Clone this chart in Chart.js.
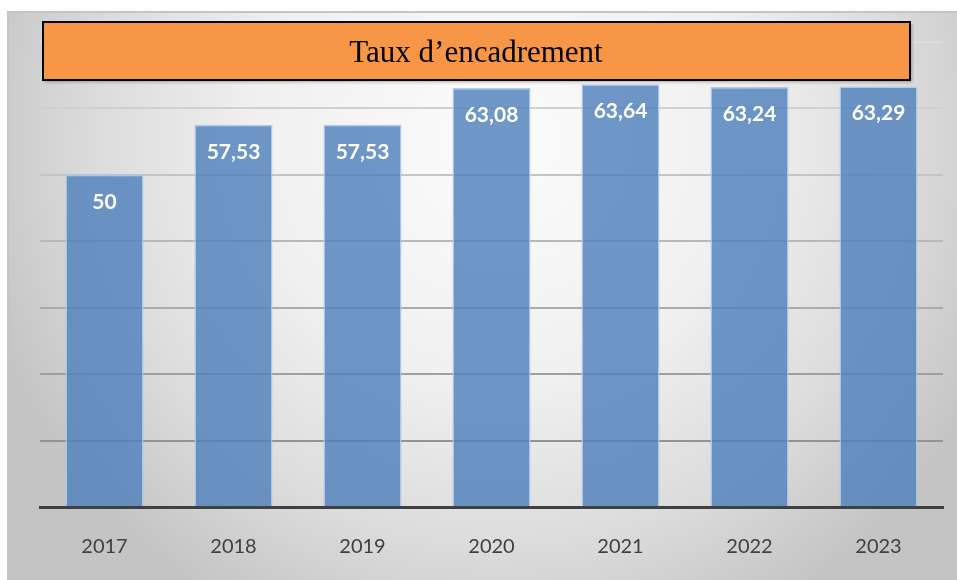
<!DOCTYPE html>
<html>
<head>
<meta charset="utf-8">
<script src="https://cdn.jsdelivr.net/npm/chart.js@4/dist/chart.umd.min.js"></script>
<style>
  body { margin: 0; background: #fff; }
  #chart { display: block; }
</style>
</head>
<body>
<canvas id="chart" width="957" height="580"></canvas>
<script>
// data
const years = ['2017', '2018', '2019', '2020', '2021', '2022', '2023'];
const tauxEncadrement = [50, 57.53, 57.53, 63.08, 63.64, 63.24, 63.29];
const chartTitle = 'Taux d\u2019encadrement';

// gridline shade gets darker towards the bottom, like the original
const gridShade = (v) => {
    if (v <= 0) return 'rgba(0,0,0,0)';
    const t = Math.min(1, v / 70);
    const g = Math.round(135 + t * 85);
    return `rgb(${g},${g},${g})`;
};

const fmt = (v) => String(v).replace('.', ',');

// background frame with the grey radial gradient
const frameBg = {
    id: 'frameBg',
    beforeDraw(chart) {
        const { ctx, width, height } = chart;
        ctx.save();
        ctx.fillStyle = '#ffffff';
        ctx.fillRect(0, 0, width, height);
        const grd = ctx.createRadialGradient(500, 140, 0, 500, 140, 540);
        grd.addColorStop(0, '#fcfcfc');
        grd.addColorStop(0.45, '#f0f0f0');
        grd.addColorStop(0.75, '#dcdcdc');
        grd.addColorStop(1, '#c4c4c4');
        ctx.fillStyle = grd;
        ctx.fillRect(8, 12, width - 8, height - 12);
        ctx.strokeStyle = '#c4c4c4';
        ctx.lineWidth = 2;
        ctx.strokeRect(8, 12, width, height);
        ctx.restore();
    }
};

// orange boxed title sitting over the top gridline
const boxTitle = {
    id: 'boxTitle',
    afterDraw(chart) {
        const { ctx } = chart;
        ctx.save();
        ctx.shadowColor = 'rgba(0,0,0,0.3)';
        ctx.shadowOffsetX = 2;
        ctx.shadowOffsetY = 2;
        ctx.shadowBlur = 3;
        ctx.fillStyle = '#f79646';
        ctx.fillRect(43, 22, 867, 58);
        ctx.shadowColor = 'transparent';
        ctx.strokeStyle = '#000';
        ctx.lineWidth = 2;
        ctx.strokeRect(43, 22, 867, 58);
        ctx.fillStyle = '#000';
        ctx.font = '31px "Liberation Serif", "Times New Roman", serif';
        ctx.textAlign = 'center';
        ctx.textBaseline = 'alphabetic';
        ctx.fillText(chartTitle, 476, 62);
        ctx.restore();
    }
};

// white values inside the top of each bar
const barValues = {
    id: 'barValues',
    afterDatasetsDraw(chart) {
        const { ctx } = chart;
        const meta = chart.getDatasetMeta(0);
        ctx.save();
        ctx.fillStyle = '#ffffff';
        ctx.font = 'bold 21px Lato, "Open Sans", sans-serif';
        ctx.textAlign = 'center';
        ctx.textBaseline = 'middle';
        meta.data.forEach((bar, i) => {
            ctx.fillText(fmt(tauxEncadrement[i]), bar.x, bar.y + 27);
        });
        ctx.restore();
    }
};

new Chart(document.getElementById('chart'), {
    type: 'bar',
    data: {
        labels: years,
        datasets: [{
            label: chartTitle,
            data: tauxEncadrement,
            backgroundColor: 'rgba(79,129,189,0.82)',
            borderColor: 'rgba(170,198,232,0.95)',
            borderWidth: 1.5,
            barPercentage: 0.605,
            categoryPercentage: 1
        }]
    },
    options: {
        responsive: false,
        animation: false,
        layout: { padding: { left: 40, right: 14, top: 42, bottom: 0 } },
        plugins: {
            legend: { display: false },
            title: { display: false },
            tooltip: { enabled: false }
        },
        scales: {
            x: {
                afterFit: (s) => { s.height = 73; },
                grid: { display: false },
                border: { display: true, color: '#404040', width: 3 },
                ticks: {
                    color: '#404040',
                    padding: 20,
                    font: { family: 'Lato, "Open Sans", sans-serif', size: 20 }
                }
            },
            y: {
                min: 0,
                max: 70,
                ticks: { display: false, stepSize: 10 },
                border: { display: false },
                grid: {
                    drawTicks: false,
                    lineWidth: 2,
                    color: (c) => gridShade(c.tick ? c.tick.value : 0)
                }
            }
        }
    },
    plugins: [frameBg, boxTitle, barValues]
});
</script>
</body>
</html>
